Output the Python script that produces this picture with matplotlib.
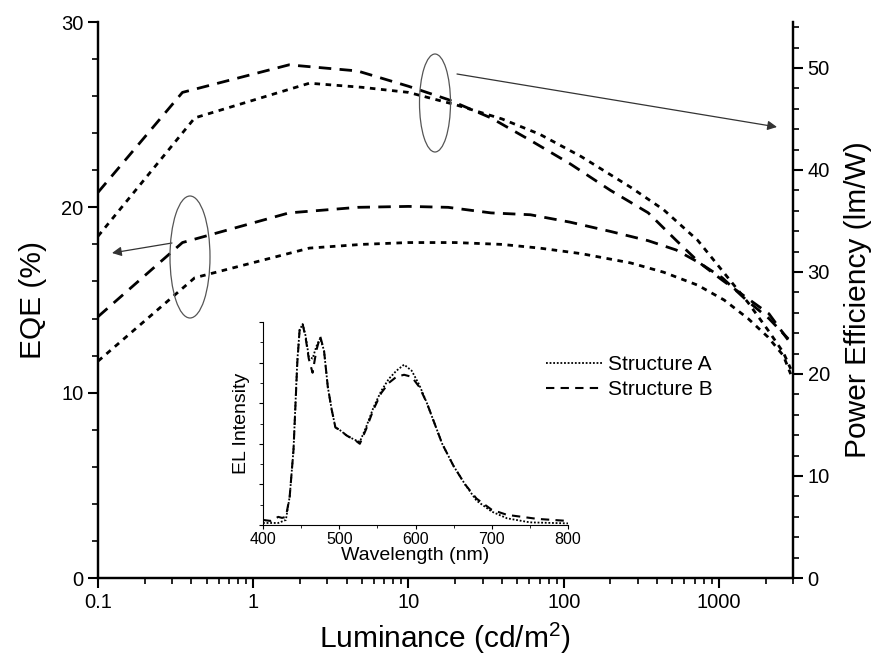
import numpy as np
import matplotlib
matplotlib.use("Agg")
import matplotlib.pyplot as plt
from matplotlib.patches import Ellipse
from matplotlib.ticker import MultipleLocator, LogLocator, FixedLocator, FixedFormatter

plt.rcParams['font.family'] = ['Liberation Sans', 'DejaVu Sans']
plt.rcParams['mathtext.fontset'] = 'custom'
plt.rcParams['mathtext.rm'] = 'Liberation Sans'

# Structure A: luminance (cd/m2), EQE (%), power efficiency (lm/W)
lum_a = [0.1, 0.42, 2.3, 5, 10, 20, 40, 70, 130, 270, 440, 730, 1080, 1540, 2070, 2600, 2900]
eqe_a = [11.7, 16.2, 17.8, 18.0, 18.1, 18.1, 18.0, 17.8, 17.5, 17.0, 16.5, 15.8, 15.0, 14.0, 13.0, 12.0, 11.0]
pe_a = [33.5, 45.1, 48.5, 48.1, 47.6, 46.4, 45.0, 43.5, 41.3, 38.3, 36.1, 33.1, 29.9, 27.0, 24.3, 22.1, 20.5]

# Structure B
lum_b = [0.1, 0.35, 1.7, 4.7, 10, 18, 34, 61, 110, 200, 350, 530, 750, 1050, 1500, 2100, 2800]
eqe_b = [14.1, 18.1, 19.7, 20.0, 20.05, 20.0, 19.7, 19.6, 19.2, 18.7, 18.2, 17.7, 17.0, 16.2, 15.0, 14.0, 12.9]
pe_b = [37.8, 47.6, 50.3, 49.7, 48.2, 46.9, 45.1, 42.9, 40.6, 38.0, 35.8, 33.1, 30.9, 29.2, 27.5, 25.9, 23.3]

# EL spectra (normalised)
wl_a = [400, 420, 430, 435, 440, 445, 448, 452, 456, 460, 465, 470, 475, 480, 485, 490, 495, 500,
        510, 520, 527, 535, 545, 555, 565, 575, 585, 595, 605, 615, 625, 635, 650, 665, 680, 700,
        720, 750, 800]
el_a = [0.01, 0.01, 0.025, 0.14, 0.37, 0.81, 0.96, 0.99, 0.93, 0.83, 0.82, 0.88, 0.92, 0.86, 0.68,
        0.57, 0.48, 0.47, 0.44, 0.42, 0.41, 0.48, 0.58, 0.66, 0.72, 0.76, 0.79, 0.76, 0.69, 0.60,
        0.50, 0.40, 0.29, 0.20, 0.12, 0.066, 0.033, 0.013, 0.008]
wl_b = [400, 410, 420, 425, 430, 435, 440, 445, 448, 452, 456, 460, 465, 470, 475, 480, 485, 490,
        495, 500, 510, 520, 527, 535, 545, 555, 565, 575, 585, 595, 605, 615, 625, 635, 650, 665,
        680, 700, 720, 740, 760, 780, 800]
el_b = [0.025, 0.02, 0.04, 0.035, 0.04, 0.14, 0.37, 0.80, 0.96, 0.99, 0.92, 0.82, 0.75, 0.86, 0.93,
        0.86, 0.68, 0.57, 0.48, 0.47, 0.44, 0.42, 0.40, 0.47, 0.57, 0.65, 0.70, 0.73, 0.74, 0.73,
        0.68, 0.60, 0.50, 0.40, 0.29, 0.20, 0.13, 0.075, 0.05, 0.04, 0.03, 0.025, 0.02]

W, H = 878, 657
fig = plt.figure(figsize=(W / 100, H / 100), dpi=100)

ax = fig.add_axes([98 / W, 1 - 578 / H, (793 - 98) / W, (578 - 22) / H])
ax2 = ax.twinx()

dot = (2, 2)
dash = (4.5, 3)
ax.plot(lum_a, eqe_a, color='black', lw=2, dashes=dot)
ax.plot(lum_b, eqe_b, color='black', lw=2, dashes=dash)
ax2.plot(lum_a, pe_a, color='black', lw=2, dashes=dot)
ax2.plot(lum_b, pe_b, color='black', lw=2, dashes=dash)

ax.set_xscale('log')
ax.set_xlim(0.1, 3000)
ax.set_ylim(0, 30)
ax2.set_ylim(0, 54.5)

ax.xaxis.set_major_locator(FixedLocator([0.1, 1, 10, 100, 1000]))
ax.xaxis.set_major_formatter(FixedFormatter(['0.1', '1', '10', '100', '1000']))
ax.xaxis.set_minor_locator(LogLocator(base=10, subs=np.arange(2, 10)))
ax.yaxis.set_major_locator(MultipleLocator(10))
ax.yaxis.set_minor_locator(MultipleLocator(2))
ax2.yaxis.set_major_locator(MultipleLocator(10))
ax2.yaxis.set_minor_locator(MultipleLocator(2))

for a in (ax, ax2):
    a.spines['top'].set_visible(False)
    for s in a.spines.values():
        s.set_linewidth(1.6)
    a.tick_params(which='major', direction='out', length=7, width=1.5, labelsize=14.5)
    a.tick_params(which='minor', direction='out', length=4, width=1.2)
ax.xaxis.set_minor_formatter(FixedFormatter([]))

ax.set_xlabel('Luminance (cd/m$^2$)', fontsize=21.5, labelpad=6)
ax.set_ylabel('EQE (%)', fontsize=21.5, labelpad=10)
ax2.set_ylabel('Power Efficiency (lm/W)', fontsize=21.5, labelpad=10)

# ellipses grouping the curve pairs, with arrows pointing to their axes
for cx, cy, ew, eh in [(190, 257, 40, 122), (435, 103, 31, 98)]:
    fig.patches.append(Ellipse((cx / W, 1 - cy / H), ew / W, eh / H, transform=fig.transFigure,
                               fill=False, edgecolor='#555555', lw=0.9))
for (x0, y0), (x1, y1) in [((172, 243), (112, 253)), ((457, 74), (777, 127))]:
    ax.annotate('', xy=(x1 / W, 1 - y1 / H), xytext=(x0 / W, 1 - y0 / H),
                xycoords='figure fraction', textcoords='figure fraction',
                arrowprops=dict(arrowstyle='-|>', color='#333333', lw=0.9,
                                mutation_scale=14, shrinkA=0, shrinkB=0))

# inset: EL spectra
ins = fig.add_axes([263 / W, 1 - 525 / H, (568 - 263) / W, (525 - 322) / H])
ins.plot(wl_a, el_a, color='black', lw=1.3, dashes=(1, 1), label='Structure A')
ins.plot(wl_b, el_b, color='black', lw=1.5, dashes=(4, 3), label='Structure B')
ins.set_xlim(400, 800)
ins.set_ylim(0, 1.0)
ins.spines['top'].set_visible(False)
ins.spines['right'].set_visible(False)
ins.xaxis.set_major_locator(MultipleLocator(100))
ins.xaxis.set_minor_locator(MultipleLocator(50))
ins.yaxis.set_major_locator(MultipleLocator(0.2))
ins.yaxis.set_minor_locator(MultipleLocator(0.1))
ins.tick_params(which='major', direction='out', length=3, width=0.8, labelsize=11.5, pad=2)
ins.tick_params(which='minor', direction='out', length=2, width=0.6)
ins.set_yticklabels([])
ins.set_xlabel('Wavelength (nm)', fontsize=14, labelpad=0)
ins.set_ylabel('EL Intensity', fontsize=14, labelpad=4)

fig.legend(loc='upper left', bbox_to_anchor=(546 / W, 1 - 355 / H), frameon=False,
           fontsize=15, handlelength=2.7, handletextpad=0.3, labelspacing=0.3,
           borderpad=0, borderaxespad=0)

fig.savefig('out.png', dpi=100)
